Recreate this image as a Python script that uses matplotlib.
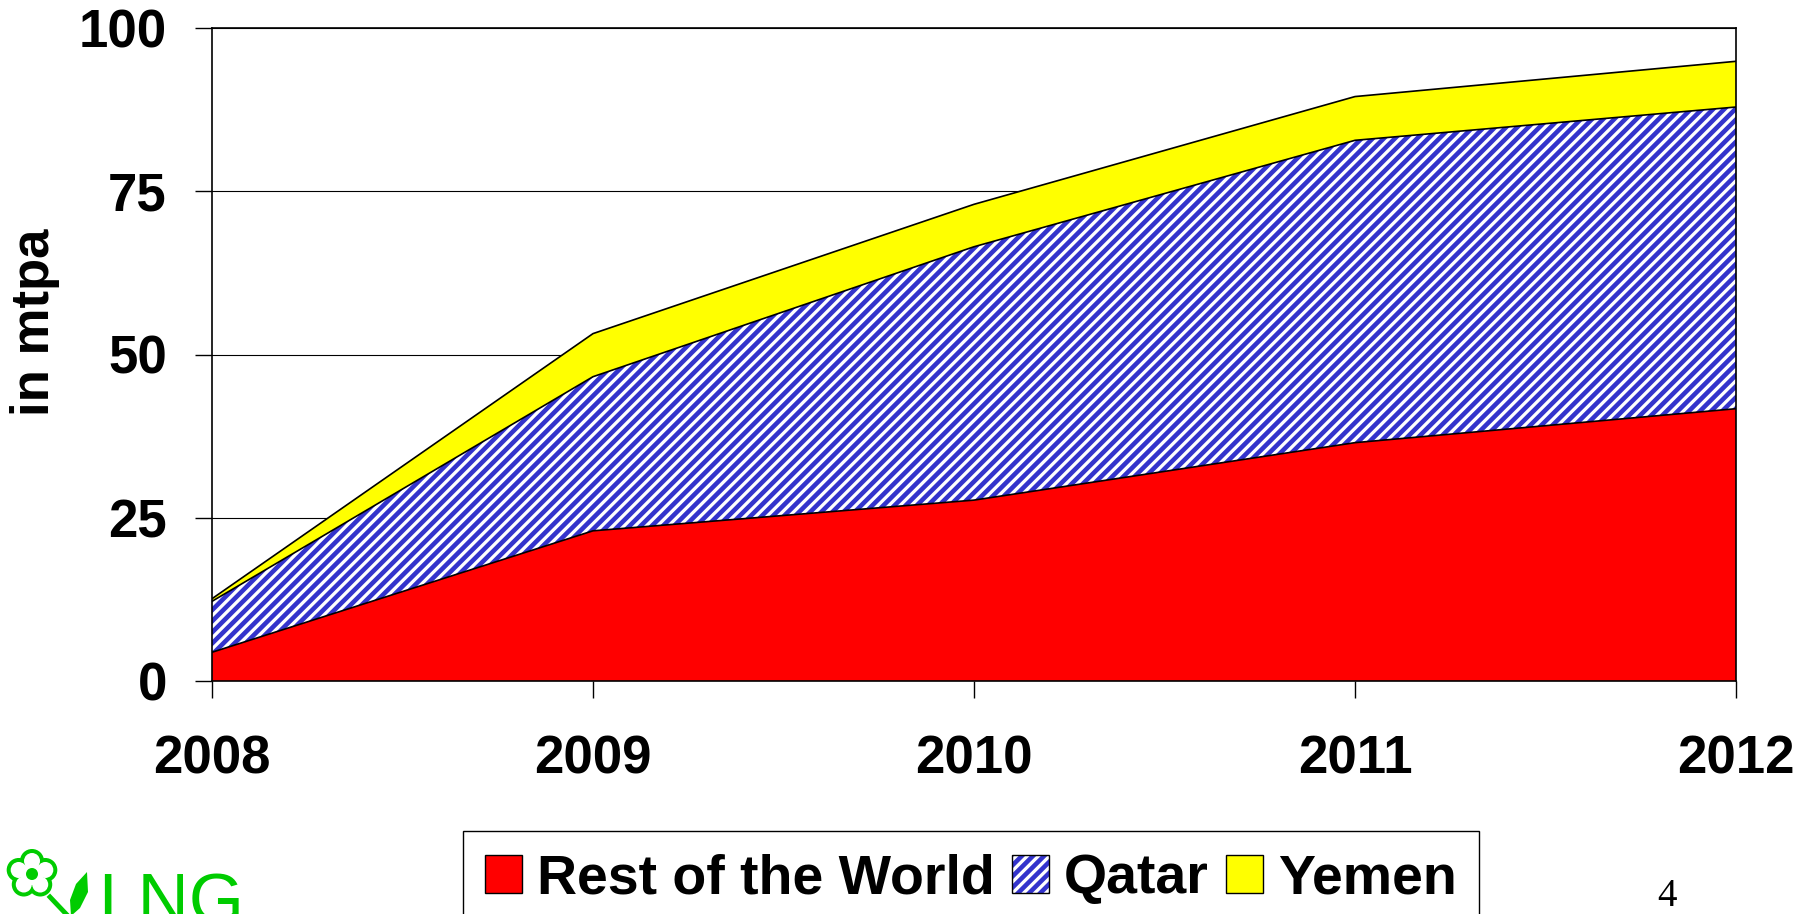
import numpy as np
import matplotlib.pyplot as plt
from matplotlib.patches import Patch, Circle, Polygon
from matplotlib.legend_handler import HandlerTuple
from matplotlib.transforms import Affine2D

anios = [2008, 2009, 2010, 2011, 2012]
rest_of_world = [4.4, 23.0, 27.7, 36.5, 41.7]
qatar = [7.8, 23.6, 38.8, 46.3, 46.2]
yemen = [0.4, 6.6, 6.5, 6.7, 7.0]
y_ticks = [0, 25, 50, 75, 100]
etiquetas = ['Rest of the World', 'Qatar', 'Yemen']

plt.rcParams['font.family'] = ['Liberation Sans', 'DejaVu Sans']
plt.rcParams['font.weight'] = 'bold'
plt.rcParams['hatch.linewidth'] = 3.3

W, H = 1815, 914
fig = plt.figure(figsize=(W / 100, H / 100), dpi=100)
ax = fig.add_axes([212 / W, 1 - 681 / H, (1736 - 212) / W, (681 - 28) / H])

# niveles apilados
nivel1 = rest_of_world
nivel2 = [a + b for a, b in zip(nivel1, qatar)]
nivel3 = [a + b for a, b in zip(nivel2, yemen)]

ax.fill_between(anios, 0, nivel1, facecolor='#ff0000', linewidth=0, zorder=2)
ax.fill_between(anios, nivel1, nivel2, facecolor='white', edgecolor='#3333cc',
                hatch='///', linewidth=0, zorder=2)
ax.fill_between(anios, nivel2, nivel3, facecolor='#ffff00', linewidth=0, zorder=2)
for nivel in (nivel1, nivel2, nivel3):
    ax.plot(anios, nivel, color='black', lw=1.2, zorder=3)

ax.set_xlim(anios[0], anios[-1])
ax.set_ylim(0, 100)
ax.set_xticks(anios)
ax.set_yticks(y_ticks)
ax.yaxis.grid(True, color='black', lw=0.8)
ax.set_axisbelow(True)
for s in ax.spines.values():
    s.set_linewidth(1.2)
ax.tick_params(axis='both', direction='out', length=12.5, width=1, labelsize=38)
ax.tick_params(axis='x', pad=26)
ax.tick_params(axis='y', pad=20)

fig.text(35 / W, 1 - 322 / H, 'in mtpa', rotation=90, ha='center', va='center',
         fontsize=38, fontweight='bold')

# leyenda
handles = [
    Patch(facecolor='#ff0000', edgecolor='black', lw=1),
    (Patch(facecolor='white', edgecolor='#3333cc', hatch='///', lw=0),
     Patch(facecolor='none', edgecolor='black', lw=1)),
    Patch(facecolor='#ffff00', edgecolor='black', lw=1),
]
leg = fig.legend(handles, etiquetas, handler_map={tuple: HandlerTuple(ndivide=1)},
                 loc='upper left', bbox_to_anchor=(463 / W, 1 - 831 / H), ncol=3,
                 frameon=True, fancybox=False, edgecolor='black', framealpha=1,
                 prop={'family': ['Liberation Sans Narrow', 'Liberation Sans'],
                       'weight': 'bold', 'size': 40},
                 handlelength=0.67, handleheight=0.68, handletextpad=0.27,
                 columnspacing=0.3, borderpad=0.4, borderaxespad=0)
leg.get_frame().set_linewidth(1)

# logo (en pixeles desde arriba a la izquierda)
verde = '#00cc00'
tr_px = Affine2D().scale(1 / 100, -1 / 100).translate(0, H / 100) + fig.dpi_scale_trans
cx, cy = 32, 874
ang = np.deg2rad(90 + np.arange(5) * 72)
petalos = [(cx + 14 * np.cos(a), cy - 13 * np.sin(a)) for a in ang]
for p in petalos:
    fig.add_artist(Circle(p, 12, color=verde, transform=tr_px, lw=0))
for p in petalos:
    fig.add_artist(Circle(p, 8, color='white', transform=tr_px, lw=0))
fig.add_artist(Circle((cx, cy), 11, color='white', transform=tr_px, lw=0))
fig.add_artist(Circle((cx, cy), 6, color=verde, transform=tr_px, lw=0))
# tallo y hoja
fig.add_artist(plt.Line2D([50, 68], [897, 916], color=verde, lw=3.5, transform=tr_px))
fig.add_artist(Polygon([(87, 872), (88, 892), (80, 908), (71, 916), (70, 900), (76, 884)],
                       closed=True, color=verde, lw=0, transform=tr_px))
fig.text(98 / W, 1 - 924 / H, 'LNG', color=verde, fontsize=51, ha='left', va='baseline',
         family='Liberation Sans', fontweight='normal')

fig.text(1667 / W, 1 - 896 / H, '4', fontsize=28, ha='center', va='center',
         family='Liberation Serif', fontweight='normal')

plt.savefig('out.png', dpi=100)
plt.close()
